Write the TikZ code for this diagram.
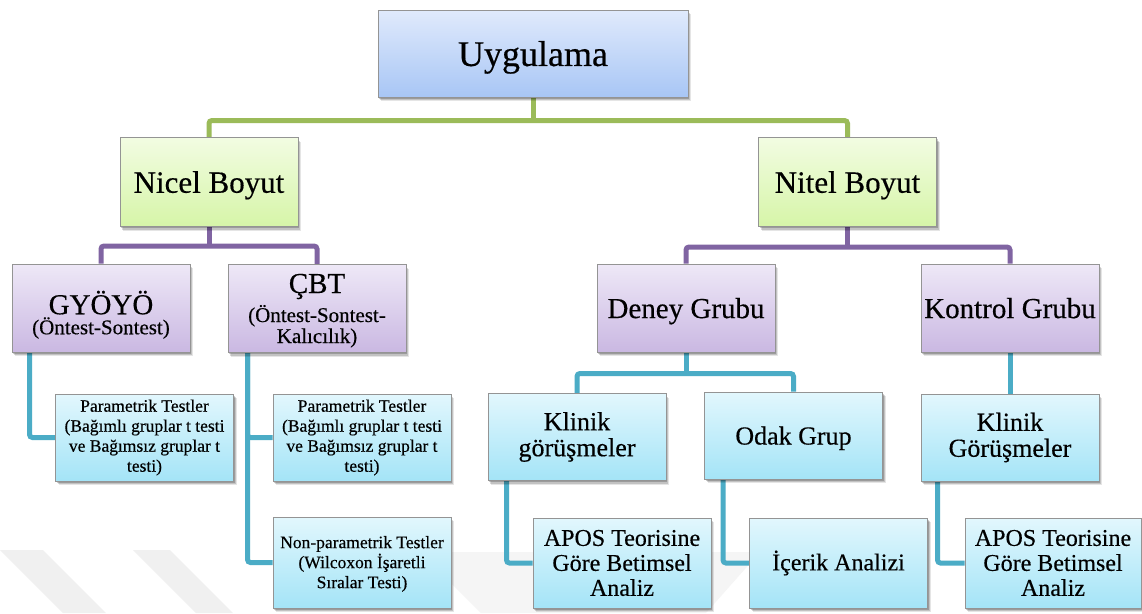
\documentclass[tikz,border=0pt]{standalone}
\usepackage{fontspec}
\setmainfont{Liberation Serif}
\newfontfamily\tnr[FakeBold=0.4]{Liberation Serif}
\usetikzlibrary{shadows}

\pgfdeclarelayer{mark}
\pgfdeclarelayer{wires}
\pgfsetlayers{mark,wires,main}

% connector colours
\definecolor{wireGreen}{HTML}{9BBB59}
\definecolor{wirePurple}{HTML}{8064A2}
\definecolor{wireTeal}{HTML}{4BACC6}
% box fills (top / bottom of the gradient)
\definecolor{blueTop}{RGB}{224,234,252}
\definecolor{blueBot}{RGB}{168,198,245}
\definecolor{greenTop}{RGB}{242,252,226}
\definecolor{greenBot}{RGB}{214,245,168}
\definecolor{purpleTop}{RGB}{238,232,247}
\definecolor{purpleBot}{RGB}{202,184,226}
\definecolor{tealTop}{RGB}{226,247,253}
\definecolor{tealBot}{RGB}{164,228,247}

\newcommand{\fs}[2]{\tnr\fontsize{#1}{#2}\selectfont}

\begin{document}
\begin{tikzpicture}[x=1pt,y=-1pt,
  box/.style={rectangle, draw=black!42, line width=1pt, align=center,
    inner sep=1pt, minimum width=178pt, minimum height=88pt,
    drop shadow={shadow xshift=3pt, shadow yshift=-4pt, opacity=0.10, fill=black},
    drop shadow={shadow xshift=2pt, shadow yshift=-3pt, opacity=0.15, fill=black},
    drop shadow={shadow xshift=1pt, shadow yshift=-1.5pt, opacity=0.20, fill=black}},
  bluebox/.style={box, top color=blueTop, bottom color=blueBot},
  greenbox/.style={box, top color=greenTop, bottom color=greenBot},
  purplebox/.style={box, top color=purpleTop, bottom color=purpleBot},
  tealbox/.style={box, top color=tealTop, bottom color=tealBot},
  wire/.style={line width=5pt, rounded corners=3pt},
  small/.style={font=\fs{17.5}{20}},
  mid/.style={font=\fs{24}{25}},
  big/.style={font=\fs{26}{26}},
  oneline/.style={text depth=0pt},
]
\useasboundingbox (0,0) rectangle (1142,613);

% white sheet and faint background mark along the bottom edge
\begin{pgfonlayer}{mark}
  \fill[white] (0,0) rectangle (1142,613);
  \fill[black!6] (0,550) -- (43,550) -- (106,613) -- (63,613) -- cycle;
  \fill[black!6] (133,550) -- (170,550) -- (233,613) -- (196,613) -- cycle;
  \fill[black!4] (420,552) -- (760,552) -- (706,613) -- (481,613) -- cycle;
\end{pgfonlayer}

% top level
\node[bluebox, oneline, minimum width=310pt, minimum height=87pt, font=\fs{36}{40}]
  (app) at (533,53.5) {Uygulama};

% second level
\node[greenbox, oneline, minimum height=89pt, font=\fs{31}{34}] (nicel) at (209,182) {Nicel Boyut};
\node[greenbox, oneline, minimum height=89pt, font=\fs{31}{34}] (nitel) at (847.5,182) {Nitel Boyut};

% third level
\node[purplebox, font=\fs{29}{20}] (gy) at (101,308)
  {\rule{0pt}{37pt}GYÖYÖ\\\fs{21}{20}(Öntest-Sontest)};
\node[purplebox, font=\fs{29}{29}] (cbt) at (317,308.5)
  {\rule{0pt}{23.5pt}ÇBT\\\fs{21}{21}(Öntest-Sontest-\\[-8pt]\fs{21}{21}Kalıcılık)};
\node[purplebox, oneline, font=\fs{29}{32}] (deney) at (686,308) {Deney Grubu};
\node[purplebox, oneline, font=\fs{29}{32}] (kontrol) at (1010,308) {Kontrol Grubu};

% fourth level
\node[tealbox, small, minimum height=87pt] (p1) at (144.5,437.5)
  {Parametrik Testler\\(Bağımlı gruplar t testi\\ve Bağımsız gruplar t\\testi)};
\node[tealbox, small, minimum height=87pt] (p2) at (362,437.5)
  {Parametrik Testler\\(Bağımlı gruplar t testi\\ve Bağımsız gruplar t\\testi)};
\node[tealbox, small, minimum height=91pt] (np) at (362,562.5)
  {\rule{0pt}{15pt}Non-parametrik Testler\\(Wilcoxon İşaretli\\Sıralar Testi)};
\node[tealbox, big, minimum height=87pt] (k1) at (577,437) {Klinik\\görüşmeler};
\node[tealbox, big, oneline, minimum height=87pt] (odak) at (793.5,435.5) {Odak Grup};
\node[tealbox, big, minimum height=87pt] (k2) at (1010,437.5) {Klinik\\Görüşmeler};

% fifth level
\node[tealbox, mid, minimum height=90pt] (a1) at (622,563) {APOS Teorisine\\Göre Betimsel\\Analiz};
\node[tealbox, mid, minimum height=90pt] (ic) at (838.5,563) {İçerik Analizi};
\node[tealbox, mid, minimum height=90pt, minimum width=176pt] (a2) at (1053,563) {APOS Teorisine\\Göre Betimsel\\Analiz};

% connectors
\path (app.south) ++(0,23) coordinate (gj);
\path (nicel.south) ++(0,19) coordinate (pj1);
\path (nitel.south) ++(0,20) coordinate (pj2);
\path (deney.south) ++(0,21) coordinate (tj);

\begin{pgfonlayer}{wires}
  \draw[wire, wireGreen] (app.south) -- (gj);
  \draw[wire, wireGreen] (nicel.north) |- (gj) -| (nitel.north);

  \draw[wire, wirePurple] (nicel.south) -- (pj1);
  \draw[wire, wirePurple] (gy.north) |- (pj1) -| (cbt.north);
  \draw[wire, wirePurple] (nitel.south) -- (pj2);
  \draw[wire, wirePurple] (deney.north) |- (pj2) -| (kontrol.north);

  \draw[wire, wireTeal] ([xshift=18pt]gy.south west) |- (p1.west);
  \draw[wire, wireTeal] ([xshift=20pt]cbt.south west) |- (p2.west);
  \draw[wire, wireTeal] ([xshift=20pt]cbt.south west) |- (np.west);

  \draw[wire, wireTeal] (deney.south) -- (tj);
  \draw[wire, wireTeal] (k1.north) |- (tj) -| (odak.north);
  \draw[wire, wireTeal] (kontrol.south) -- (k2.north);

  \draw[wire, wireTeal] ([xshift=19pt]k1.south west) |- (a1.west);
  \draw[wire, wireTeal] ([xshift=19pt]odak.south west) |- (ic.west);
  \draw[wire, wireTeal] ([xshift=17pt]k2.south west) |- (a2.west);
\end{pgfonlayer}
\end{tikzpicture}
\end{document}
